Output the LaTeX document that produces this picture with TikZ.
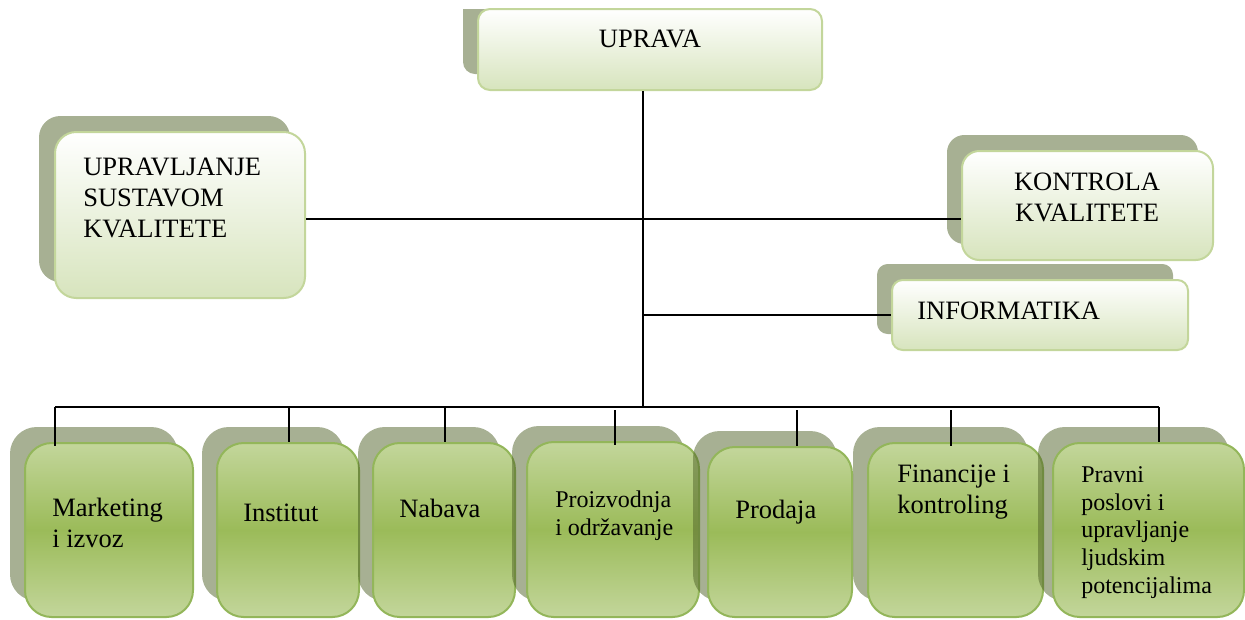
\documentclass[tikz,border=0pt]{standalone}
\usepackage{fontspec}
\setmainfont{Liberation Serif}
\usetikzlibrary{fit}
\definecolor{shadowc}{HTML}{4F6228}
\definecolor{lightg}{HTML}{C3D69B}
\definecolor{midg}{HTML}{9BBB59}
\definecolor{paleg}{HTML}{D7E4BD}
\definecolor{edgeg}{HTML}{93B65A}
\definecolor{edgeu}{HTML}{C3D69B}
\begin{document}
\begin{tikzpicture}[x=0.75pt,y=-0.75pt,
  shadowbox/.style={inner sep=0pt, fill=shadowc, fill opacity=0.5, draw=none},
  upbox/.style={inner sep=0pt, draw=edgeu, line width=1.5pt, top color=white, bottom color=paleg},
  lowbox/.style={inner sep=0pt, draw=edgeg, line width=1.5pt, top color=lightg, bottom color=lightg, middle color=midg, rounded corners=20pt},
  bigtext/.style={font=\fontsize{19.9}{23.2}\selectfont, inner sep=0pt, align=left},
  smalltext/.style={font=\fontsize{18}{20.7}\selectfont, inner sep=0pt, align=left},
  link/.style={line width=1.5pt, black}]
\useasboundingbox (0,0) rectangle (1245,619);

% top box
\begin{scope}
\clip (0,9) rectangle (1245,619);
\node[shadowbox, rounded corners=9pt, fit={(463,-7) (807,74)}] (s-upr) {};
\end{scope}
\node[upbox, rounded corners=9pt, fit={(478,9) (822,90)}] (upr) {};

% left box
\node[shadowbox, rounded corners=16pt, fit={(39,116) (290,282)}] (s-usk) {};
\node[upbox, rounded corners=16pt, fit={(55,132) (305,298)}] (usk) {};

% right boxes
\node[shadowbox, rounded corners=13pt, fit={(947,135) (1198,244)}] (s-kk) {};
\node[upbox, rounded corners=13pt, fit={(962,151) (1213,260)}] (kk) {};
\node[shadowbox, rounded corners=8pt, fit={(877,264) (1173,334)}] (s-inf) {};
\node[upbox, rounded corners=8pt, fit={(892,280) (1188,350)}] (inf) {};

% bottom boxes
\node[shadowbox, rounded corners=20pt, fit={(10,427) (178,601)}] (s-mkt) {};
\node[lowbox, fit={(25,443) (193,617)}] (mkt) {};
\node[shadowbox, rounded corners=20pt, fit={(202,427) (344,601)}] (s-ins) {};
\node[lowbox, fit={(217,443) (359,617)}] (ins) {};
\node[shadowbox, rounded corners=20pt, fit={(358,427) (500,601)}] (s-nab) {};
\node[lowbox, fit={(373,443) (515,617)}] (nab) {};
\node[shadowbox, rounded corners=20pt, fit={(512,426) (684,601)}] (s-pro) {};
\node[lowbox, fit={(527,442) (699,617)}] (pro) {};
\node[shadowbox, rounded corners=20pt, fit={(693,431) (837,601)}] (s-prd) {};
\node[lowbox, fit={(708,447) (852,617)}] (prd) {};
\node[shadowbox, rounded corners=20pt, fit={(853,427) (1028,601)}] (s-fin) {};
\node[lowbox, fit={(868,443) (1043,617)}] (fin) {};
\node[shadowbox, rounded corners=20pt, fit={(1038,427) (1229,601)}] (s-prv) {};
\node[lowbox, fit={(1053,443) (1244,617)}] (prv) {};

% texts (base anchor = baseline of the last line)
\node[bigtext, anchor=base] (t-upr) at (650,47) {UPRAVA};
\node[bigtext, anchor=base west] (t-usk) at (83,237) {UPRAVLJANJE\\SUSTAVOM\\KVALITETE};
\node[bigtext, align=center, anchor=base] (t-kk) at (1087,221) {KONTROLA\\KVALITETE};
\node[bigtext, anchor=base west] (t-inf) at (917,319) {INFORMATIKA};
\node[bigtext, anchor=base west] (t-mkt) at (52,547) {Marketing\\i izvoz};
\node[bigtext, anchor=base west] (t-ins) at (243,521) {Institut};
\node[bigtext, anchor=base west] (t-nab) at (399,517) {Nabava};
\node[smalltext, anchor=base west] (t-pro) at (555,535) {Proizvodnja\\i održavanje};
\node[bigtext, anchor=base west] (t-prd) at (735,518) {Prodaja};
\node[bigtext, anchor=base west] (t-fin) at (897,513) {Financije i\\kontroling};
\node[smalltext, anchor=base west] (t-prv) at (1081,593) {Pravni\\poslovi i\\upravljanje\\ljudskim\\potencijalima};

% connectors
\coordinate (busT) at (643,407);
\coordinate (hl) at (643,219);
\coordinate (il) at (643,315);
\coordinate (d1) at (55,407);
\coordinate (d2) at (289,407);
\coordinate (d3) at (445,407);
\coordinate (d4) at (615,410);
\coordinate (d5) at (797,410);
\coordinate (d6) at (951,410);
\coordinate (d7) at (1159,407);

\draw[link] (upr.south -| busT) -- (busT);
\draw[link] (hl -| usk.east) -- (hl -| kk.west);
\draw[link] (il) -- (il -| inf.west);
\draw[link] (d1) -- (d7);
\draw[link] (d1) -- ([yshift=-3pt]d1 |- mkt.north);
\draw[link] (d2) -- (d2 |- ins.north);
\draw[link] (d3) -- (d3 |- nab.north);
\draw[link] (d4) -- ([yshift=-3pt]d4 |- pro.north);
\draw[link] (d5) -- (d5 |- prd.north);
\draw[link] (d6) -- ([yshift=-3pt]d6 |- fin.north);
\draw[link] (d7) -- (d7 |- prv.north);
\end{tikzpicture}
\end{document}
